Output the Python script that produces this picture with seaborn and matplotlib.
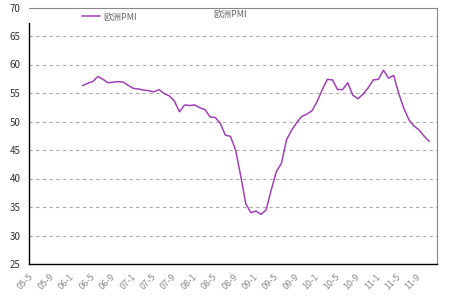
import matplotlib
matplotlib.use("Agg")
import matplotlib.pyplot as plt
import seaborn as sns
import pandas as pd
import numpy as np

# month index counted from 2005-05 (index 0)
month_index = list(range(10, 79))
pmi_values = [56.3, 56.7, 57.0, 57.9, 57.4, 56.8, 56.9, 57.0, 56.9, 56.3,
              55.8, 55.7, 55.5, 55.4, 55.2, 55.6, 54.9, 54.5, 53.6, 51.7,
              52.9, 52.8, 52.9, 52.4, 52.1, 50.8, 50.7, 49.7, 47.6, 47.4,
              45.0, 40.5, 35.6, 34.0, 34.3, 33.7, 34.5, 38.0, 41.2, 42.7,
              46.8, 48.5, 49.8, 50.9, 51.3, 51.9, 53.5, 55.6, 57.4, 57.3,
              55.6, 55.6, 56.8, 54.6, 54.0, 54.8, 55.9, 57.3, 57.4, 59.0,
              57.6, 58.1, 54.9, 52.3, 50.3, 49.2, 48.5, 47.4, 46.5]
tick_labels = ["05-5", "05-9", "06-1", "06-5", "06-9", "07-1", "07-5", "07-9",
               "08-1", "08-5", "08-9", "09-1", "09-5", "09-9", "10-1", "10-5",
               "10-9", "11-1", "11-5", "11-9"]
series_name = "欧洲PMI"

sns.set_theme(style="white")
plt.rcParams['font.family'] = ['Noto Sans CJK SC', 'DejaVu Sans']

df = pd.DataFrame({"x": np.array(month_index) + 0.5, "pmi": pmi_values,
                   "s": series_name})

fig = plt.figure(figsize=(4.5, 3), dpi=100)
ax = fig.add_axes([29/450, 1-264/300, (437-29)/450, (264-7.5)/300])

sns.lineplot(data=df, x="x", y="pmi", color="#a040b8", linewidth=1.1,
             ax=ax, label=series_name)

ax.set_xlim(0, 80)
ax.set_ylim(25, 70)
ax.set_yticks(range(25, 71, 5))
ax.set_xticks(range(0, 81, 4))
ax.set_xticklabels(tick_labels + [""], rotation=45, ha="right",
                   rotation_mode="anchor", fontsize=6.5, color="#888888")
ax.tick_params(axis="x", direction="in", length=2.5, width=0.8,
               color="black", pad=6)
ax.tick_params(axis="y", length=0, labelsize=7, colors="#333333", pad=6)
ax.set_xlabel("")
ax.set_ylabel("")

for v in range(30, 70, 5):
    ax.axhline(v, color="#aaaaaa", linestyle=(0, (3, 3)), linewidth=0.8,
               zorder=0)

for side in ["top", "right"]:
    ax.spines[side].set_color("#888888")
    ax.spines[side].set_linewidth(0.8)
ax.spines["left"].set_color("black")
ax.spines["left"].set_linewidth(1.0)
ax.spines["left"].set_bounds(25, 67.3)
ax.spines["bottom"].set_color("black")
ax.spines["bottom"].set_linewidth(1.0)

leg = ax.legend(loc="upper left", bbox_to_anchor=(0.12, 0.995), frameon=False,
                fontsize=6.5, handlelength=2.0, handletextpad=0.4,
                borderaxespad=0)
for t in leg.get_texts():
    t.set_color("#666666")

fig.text(230/450, 1-14/300, series_name, ha="center", va="center",
         fontsize=6.5, color="#666666")

fig.savefig("out.png", dpi=100, facecolor="white")
